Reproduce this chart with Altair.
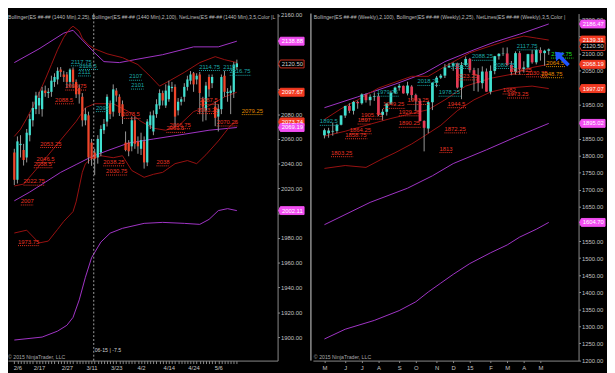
import altair as alt
import pandas as pd

FONT = "Liberation Sans"
BG = "#000000"
CYAN = "#40e0d0"
RED_L = "#f0452a"
RED_R = "#e23a55"
WICK = "#9a9a9a"
LINE_RED = "#9b1111"
LINE_MAG = "#a335c9"
LBL = {"C": "#1aa7a7", "R": "#e83323", "O": "#e08c00", "G": "#1ee01e"}
AXIS_TXT = "#c4c4c4"
AXIS_LINE = "#8c8c8c"
BADGE = {"P": ("#f24ef2", "#f24ef2", "#ffffff"),
         "R": ("#f23a22", "#f23a22", "#ffffff"),
         "K": ("#000000", "#d03020", "#d0d0d0")}

# ---------------- daily panel (1440 Min) ----------------
d_open = [2049, 2027, 2055, 2051, 2045, 2063, 2075, 2084, 2087, 2084,
          2099, 2097, 2098, 2106, 2108, 2116, 2112, 2112, 2106, 2116,
          2106, 2101, 2094, 2075, 2079, 2057, 2049, 2045, 2049, 2067,
          2074, 2088, 2082, 2099, 2094, 2088, 2057, 2057, 2054, 2075,
          2058, 2052, 2058, 2041, 2071, 2066, 2080, 2087, 2097, 2087,
          2092, 2101, 2102, 2083, 2090, 2094, 2102, 2107, 2113, 2108,
          2112, 2092, 2083, 2110, 2105, 2086, 2078, 2084, 2111, 2097,
          2097, 2098, 2118]
d_high = [2052, 2062, 2063, 2056, 2068, 2080, 2090, 2098, 2098, 2102,
          2103, 2101, 2111, 2113, 2117.75, 2118, 2115, 2114, 2117, 2117.75,
          2108, 2104, 2097, 2085, 2082, 2060, 2052, 2063, 2071, 2076,
          2096, 2091, 2104, 2101, 2096, 2091, 2066, 2059, 2078, 2078,
          2062, 2065, 2062, 2076, 2082, 2083, 2092, 2100, 2099, 2104,
          2107, 2106, 2104, 2093, 2094, 2105, 2111, 2114.75, 2114, 2113,
          2114, 2094, 2106, 2112, 2112, 2090, 2088, 2112, 2115, 2101,
          2103, 2122, 2124]
d_low = [2022.75, 2024, 2045, 2038.5, 2041, 2058, 2070, 2080, 2080, 2078,
         2094, 2093, 2094, 2102, 2104, 2110, 2106, 2101, 2102, 2101,
         2093, 2088.5, 2070, 2071, 2040, 2038.25, 2030.75, 2040, 2046, 2064,
         2070, 2076, 2078, 2090, 2078.5, 2072, 2050, 2046, 2050, 2052,
         2048, 2047, 2036, 2038, 2068, 2063, 2077, 2084, 2087, 2085,
         2090, 2098, 2070, 2079, 2087, 2090, 2099, 2104, 2098, 2104,
         2080, 2074, 2075, 2094, 2101, 2070.25, 2066, 2080, 2094, 2090,
         2080, 2093, 2116]
d_close = [2027, 2058, 2056, 2043, 2065, 2076, 2085, 2095, 2093, 2099,
           2097, 2098, 2107, 2110, 2115, 2114, 2110, 2106, 2116, 2106,
           2096, 2096, 2075, 2080, 2045, 2044, 2044, 2060, 2068, 2072,
           2094, 2080, 2100, 2095, 2081, 2078, 2051, 2050, 2075, 2056,
           2054, 2059, 2041, 2074, 2079, 2079, 2088, 2097, 2091, 2099,
           2103, 2102, 2078, 2090, 2092, 2102, 2108, 2112, 2104, 2111,
           2097, 2086, 2103, 2100, 2110, 2077, 2084, 2110, 2098, 2098,
           2099, 2120, 2121]
d_tick_idx = [1, 8, 17, 25, 33, 41, 50, 58, 66]
d_tick_txt = ["2/6", "2/17", "2/27", "3/11", "3/23", "4/2", "4/14", "4/24", "5/6"]

d_bb25_up_i = [0, 2, 4, 6, 8, 10, 12, 14, 16, 18, 19, 21, 22, 24, 26, 30, 35, 40, 44, 47, 50, 55, 60, 65, 68, 72]
d_bb25_up = [2062, 2067.8, 2076.5, 2086, 2097, 2108, 2120, 2132, 2142, 2149, 2151, 2147, 2141.4, 2135.9,
             2132.7, 2128.7, 2125.6, 2120, 2110.5, 2102.6, 2106.6, 2113.7, 2121.6, 2126.4, 2124, 2121.6]
d_bb25_mid_i = [0, 3, 9, 15, 20, 23, 26, 32, 37, 41, 45, 49, 53, 58, 63, 68, 72]
d_bb25_mid = [2022, 2023.5, 2041, 2059.1, 2074.1, 2085.2, 2088.4, 2088.4, 2082, 2074.1, 2068.6, 2067,
              2070.2, 2082, 2086.8, 2093.9, 2097.7]
d_bb25_lo_i = [0, 4, 8, 11, 14, 16, 19, 20, 21, 22, 23, 25, 28, 32, 35, 38, 42, 45, 48, 52, 56, 59, 62, 66, 68, 70, 72]
d_bb25_lo = [1984, 1986.3, 1976, 1977.5, 1987, 1993.4, 2001.3, 2009.2, 2021, 2033, 2040, 2044, 2046.4,
             2044.8, 2046.4, 2034.5, 2029, 2031.4, 2033, 2040, 2042.5, 2040, 2047.2, 2058.3, 2064.6, 2071, 2073.7]
d_bb100_up_i = [0, 8, 16, 19, 22, 26, 29, 34, 39, 48, 58, 66, 72]
d_bb100_up = [2121.6, 2132.7, 2145.4, 2147.7, 2139.8, 2129.5, 2122.4, 2121.6, 2124, 2128, 2134.3, 2134.3, 2138.9]
d_bb100_mid_i = [0, 5, 10, 15, 20, 25, 30, 37, 45, 55, 63, 72]
d_bb100_mid = [2010, 2017.1, 2025, 2033, 2039.3, 2045.6, 2050.4, 2056.7, 2059.9, 2063.8, 2067, 2069.2]
d_bb100_lo_i = [0, 9, 14, 17, 19, 21, 23, 25, 28, 31, 35, 42, 48, 55, 60, 63, 66, 69, 72]
d_bb100_lo = [1897.6, 1900, 1904.8, 1909.5, 1915.9, 1930, 1948.3, 1964.1, 1976.7, 1983.9, 1987.8,
              1991.8, 1992.6, 1991.8, 1991, 1995, 2002.1, 2003.7, 2002.1]

d_lbl_txt = ["2117.75", "2116.5", "2111", "2107", "2101", "2092", "2114.75", "2115", "2116.75",
             "2099.75", "2088.5", "2078.5", "2053.25", "2046.5", "2038.5", "2022.75", "2007", "1973.75",
             "2038.25", "2030.75", "2038", "2066.75", "2061.5", "2087.5", "2083.25", "2070.25", "2079.25"]
d_lbl_i = [18.3, 21.0, 20.7, 37.2, 37.8, 26.4, 59.8, 67.6, 69.7,
           16.5, 13.2, 34.8, 8.4, 7.2, 6.3, 3.0, 2.1, 1.2,
           28.8, 29.7, 46.0, 50.2, 49.2, 60.0, 59.2, 65.5, 73.6]
d_lbl_p = [2122.2, 2119.2, 2114.0, 2110.5, 2103.4, 2085.2, 2118.4, 2118.4, 2114.5,
           2102.6, 2091.5, 2079.7, 2056.2, 2044.0, 2039.9, 2025.8, 2009.8, 1977.0,
           2041.4, 2034.0, 2041.4, 2071.4, 2068.4, 2091.0, 2083.6, 2073.6, 2082.8]
d_lbl_col = ["C"] * 9 + ["R"] * 17 + ["O"]

d_badge_p = [2138.88, 2120.50, 2097.67, 2073.74, 2069.19, 2002.11]
d_badge_kind = ["P", "K", "R", "R", "P", "P"]
d_hidden_ticks = [2140, 2120, 2100, 2000]

d_cursor_i = 25.7
d_cursor_txt = "06-15 | -7.5"

# ---------------- weekly panel ----------------
w_open = [1860, 1866, 1871, 1873, 1891, 1918, 1946, 1932, 1958, 1954,
          1979, 1963, 1973, 1975, 1920, 1929, 1953, 1985, 2000, 2005,
          1983, 2003, 1978, 1961, 1902, 1880, 1957, 2014, 2029, 2035,
          2059, 2064, 2071, 2000, 2066, 2084, 2051, 2037, 2013, 2047,
          1988, 2049, 2092, 2099, 2100, 2066, 2046, 2101, 2055, 2059,
          2098, 2074, 2110, 2101, 2108]
w_high = [1880, 1882, 1897, 1894, 1919, 1947, 1954, 1961, 1962, 1983,
          1983, 1980, 1986, 1983, 1937, 1955, 1991, 2003, 2011, 2006,
          2017, 2007, 1982, 1967, 1904, 1960, 2015, 2034, 2040, 2069,
          2072, 2074, 2073, 2075, 2091, 2087, 2058, 2057, 2062, 2056,
          2065, 2093, 2101, 2117, 2117.75, 2078, 2106, 2107, 2077, 2099,
          2110, 2114, 2118, 2111, 2114.75]
w_low = [1851, 1853, 1859, 1866, 1889, 1911, 1925, 1921, 1938, 1950,
         1956, 1947, 1961, 1916, 1904, 1918, 1950, 1981, 1991, 1982,
         1977, 1962, 1932, 1901, 1813, 1866, 1934, 2001, 2025, 2028,
         2058, 2049, 1997, 1966, 2063, 2044, 1990, 1988, 1997, 1988,
         1980, 2039, 2082, 2093, 2064, 2036, 2038, 2038, 2044, 2056,
         2070, 2068, 2079, 2064, 2096]
w_close = [1875, 1874, 1873, 1891, 1918, 1946, 1932, 1958, 1954, 1980,
           1963, 1973, 1975, 1920, 1929, 1953, 1985, 2000, 2005, 1983,
           2006, 1978, 1962, 1902, 1882, 1957, 2014, 2029, 2035, 2059,
           2064, 2071, 2000, 2066, 2084, 2051, 2037, 2013, 2047, 1988,
           2049, 2092, 2099, 2100, 2066, 2046, 2101, 2055, 2059, 2098,
           2074, 2110, 2101, 2108, 2112]
w_tick_idx = [0, 5, 9, 13, 18, 22, 27, 31, 35, 40, 44, 48, 52]
w_tick_txt = ["M", "J", "J", "A", "S", "O", "N", "D", "15", "F", "M", "A", "M"]

w_bb100_up_i = [0, 8, 17, 24, 29, 36, 41, 47, 54]
w_bb100_up = [1941, 1972.7, 2010, 2041.6, 2076, 2110.6, 2133.6, 2156.6, 2186.5]
w_bb100_mid_i = [0, 11, 20, 26, 31, 39, 46, 54]
w_bb100_mid = [1598, 1663.5, 1705, 1741.4, 1777.2, 1817.5, 1854.8, 1895]
w_bb100_lo_i = [0, 5, 12, 18, 22, 25, 28, 31, 35, 40, 44, 47, 51, 54]
w_bb100_lo = [1263, 1291.6, 1317.4, 1346.2, 1372, 1400.8, 1426.7, 1452.5, 1484.1, 1515.7, 1538.7,
              1561.7, 1584.7, 1604.7]
w_bb25_up_i = [0, 4, 8, 13, 17, 21, 25, 29, 35, 40, 45, 48, 51, 54]
w_bb25_up = [1906.6, 1938, 1964, 1998.5, 2015.8, 2033, 2033, 2061.8, 2102, 2122, 2142.2, 2150.9, 2145.1, 2139.3]
w_bb25_mid_i = [0, 5, 10, 16, 21, 25, 29, 34, 40, 45, 50, 54]
w_bb25_mid = [1857.7, 1872, 1889.3, 1909.4, 1923.8, 1935.3, 1964, 2004.3, 2027.3, 2038.8, 2058.9, 2068.2]
w_bb25_lo_i = [0, 5, 10, 14, 17, 21, 24, 28, 32, 36, 40, 44, 50, 54]
w_bb25_lo = [1763, 1771.5, 1766, 1791.6, 1808.9, 1834.7, 1857.7, 1889.3, 1932.4, 1964, 1987, 1998.5,
             2004.3, 1997.1]

w_lbl_txt = ["1892.5", "1979.75", "2018.25", "1978.25", "2062.5", "2080.75", "2117.75", "2088.25",
             "2114.75",
             "1897", "1905.75", "1864.25", "1858.75", "1803.25", "1949.25", "1929.25", "1890.25",
             "1993.25", "1872.25", "1813", "1944.5", "2023.25", "1982", "1973.25", "2034.25", "2030.25",
             "2064.5", "2048.75"]
w_lbl_i = [-1.1, 12.6, 22.4, 27.5, 30.5, 40.9, 46.3, 35.5,
           54.6,
           8.0, 8.8, 6.1, 5.0, 1.6, 14.1, 17.9, 17.9,
           20.0, 28.9, 27.7, 29.6, 31.8, 42.9, 44.0, 44.8, 48.6,
           53.4, 52.2]
w_lbl_p = [1900.8, 1986.2, 2017.8, 1986.2, 2067.5, 2067.5, 2122.1, 2091.4,
           2098.0,
           1904.6, 1919.0, 1876.0, 1861.5, 1808.9, 1950.5, 1928.7, 1895.0,
           1962.0, 1878.7, 1821.0, 1952.5, 2033.9, 1992.8, 1981.0, 2050.0, 2043.0,
           2073.0, 2040.4]
w_lbl_col = ["C"] * 8 + ["G"] + ["R"] * 17 + ["O", "O"]

w_badge_p = [2186.47, 2139.31, 2120.50, 2068.19, 1997.07, 1895.02, 1604.70]
w_badge_kind = ["P", "R", "K", "R", "R", "P", "P"]
w_hidden_ticks = [2150, 2000, 1900, 1600]

w_arrow_i = [57.3]
w_arrow_p = [2083.3]

HDR_L = ("Bollinger(ES ##-## (1440 Min),2,25), Bollinger(ES ##-## (1440 Min),2,100), "
         "NetLines(ES ##-## (1440 Min),3,5,Color |L")
HDR_R = ("Bollinger(ES ##-## (Weekly),2,100), Bollinger(ES ##-## (Weekly),2,25), "
         "NetLines(ES ##-## (Weekly),3,5,Color |")
COPY = "\u00a9 2015 NinjaTrader, LLC"

W_L, W_R, H = 275, 271, 354
FS = 6
FS_SMALL = 5.3


def lines_df(pairs):
    rows = []
    for name, idx, vals in pairs:
        for a, b in zip(idx, vals):
            rows.append({"s": name, "i": a, "p": b})
    return pd.DataFrame(rows)


def build(cdf, red_lines, mag_lines, lbl, badges, xs, ys, W, xaxis, yaxis, bsize, dn, cw, extra):
    X = alt.X("i:Q", scale=xs, axis=xaxis)
    wick = alt.Chart(cdf).mark_rule(color=WICK, strokeWidth=1).encode(
        x=X, y=alt.Y("l:Q", scale=ys, axis=yaxis), y2="h:Q")
    body = alt.Chart(cdf).mark_bar(size=bsize, orient="vertical").encode(
        x=X, y=alt.Y("o:Q", scale=ys, axis=yaxis), y2="c:Q",
        color=alt.condition("datum.c >= datum.o", alt.value(CYAN), alt.value(dn)))
    rl = alt.Chart(red_lines).mark_line(color=LINE_RED, strokeWidth=1).encode(
        x=X, y=alt.Y("p:Q", scale=ys, axis=yaxis), detail="s:N")
    ml = alt.Chart(mag_lines).mark_line(color=LINE_MAG, strokeWidth=1).encode(
        x=X, y=alt.Y("p:Q", scale=ys, axis=yaxis), detail="s:N")
    txt = alt.Chart(lbl).mark_text(align="left", baseline="middle", font=FONT, fontSize=FS).encode(
        x=X, y=alt.Y("p:Q", scale=ys, axis=yaxis), text="t:N",
        color=alt.Color("col:N", scale=None))
    und = alt.Chart(lbl).transform_calculate(i2=f"datum.i + length(datum.t) * {cw}").mark_rule(
        strokeDash=[1, 1], strokeWidth=1, yOffset=4).encode(
        x=X, x2="i2:Q", y=alt.Y("p:Q", scale=ys, axis=yaxis),
        color=alt.Color("col:N", scale=None))
    bpath = "M-1,0L-0.86,-0.31L1,-0.31L1,0.31L-0.86,0.31Z"
    bbox = alt.Chart(badges).mark_point(shape=bpath, size=26 * 26, filled=True, opacity=1,
                                         strokeWidth=1, fillOpacity=1).encode(
        x=alt.value(W + 14), y=alt.Y("p:Q", scale=ys, axis=yaxis),
        fill=alt.Fill("fill:N", scale=None), stroke=alt.Stroke("stroke:N", scale=None))
    btxt = alt.Chart(badges).mark_text(align="center", baseline="middle", font=FONT,
                                       fontSize=FS).encode(
        x=alt.value(W + 15), y=alt.Y("p:Q", scale=ys, axis=yaxis),
        text=alt.Text("p:Q", format=".2f"), color=alt.Color("tc:N", scale=None))
    return alt.layer(ml, rl, wick, body, und, txt, *extra, bbox, btxt)


def lbl_df(t, i, p, c):
    return pd.DataFrame({"t": t, "i": i, "p": p, "col": [LBL[k] for k in c]})


def badge_df(p, kind):
    return pd.DataFrame({"p": p, "fill": [BADGE[k][0] for k in kind],
                         "stroke": [BADGE[k][1] for k in kind], "tc": [BADGE[k][2] for k in kind]})


def label_expr(idx, txt):
    return f"indexof({idx}, datum.value) >= 0 ? {txt}[indexof({idx}, datum.value)] : ''"


def ylabel_expr(hidden):
    return f"indexof({hidden}, datum.value) >= 0 ? '' : format(datum.value, '.2f')"


common_axis = dict(labelFont=FONT, labelFontSize=FS, labelColor=AXIS_TXT, domainColor=AXIS_LINE,
                   tickColor=AXIS_LINE, grid=False, title=None, labelOverlap=False, labelFlush=False)

# ---- left (daily) ----
ddf = pd.DataFrame({"i": list(range(len(d_open))), "o": d_open, "h": d_high, "l": d_low, "c": d_close})
xs_l = alt.Scale(domain=[-0.46, 83.6], nice=False, zero=False)
ys_l = alt.Scale(domain=[1881, 2161.2], nice=False, zero=False)
xa_l = alt.Axis(values=list(range(len(d_open))), labelExpr=label_expr(d_tick_idx, d_tick_txt),
                tickSize=3, labelPadding=1, **common_axis)
ya_l = alt.Axis(orient="right", values=list(range(1900, 2161, 20)), labelExpr=ylabel_expr(d_hidden_ticks),
                tickSize=2, labelPadding=1, **common_axis)
d_red = lines_df([("u", d_bb25_up_i, d_bb25_up), ("m", d_bb25_mid_i, d_bb25_mid), ("l", d_bb25_lo_i, d_bb25_lo)])
d_mag = lines_df([("u", d_bb100_up_i, d_bb100_up), ("m", d_bb100_mid_i, d_bb100_mid), ("l", d_bb100_lo_i, d_bb100_lo)])

one = pd.DataFrame({"i": [d_cursor_i], "t": [d_cursor_txt]})
cursor = alt.Chart(one).mark_rule(color="#a0a0a0", strokeDash=[2, 2], strokeWidth=1).encode(
    x=alt.X("i:Q", scale=xs_l, axis=xa_l), y=alt.value(0), y2=alt.value(H))
cursor_t = alt.Chart(one).mark_text(align="left", baseline="middle", font=FONT, fontSize=FS_SMALL,
                                    color="#d0d0d0", dx=1).encode(
    x=alt.X("i:Q", scale=xs_l, axis=xa_l), y=alt.value(H - 11), text="t:N")
hdr_l = alt.Chart(pd.DataFrame({"t": [HDR_L]})).mark_text(
    align="left", baseline="middle", font=FONT, fontSize=5.2, color="#bdbdbd", limit=W_L).encode(
    x=alt.value(0), y=alt.value(4), text="t:N")
copy_l = alt.Chart(pd.DataFrame({"t": [COPY]})).mark_text(
    align="left", baseline="middle", font=FONT, fontSize=FS_SMALL, color="#a8a8a8").encode(
    x=alt.value(0), y=alt.value(H - 4), text="t:N")

left = build(ddf, d_red, d_mag, lbl_df(d_lbl_txt, d_lbl_i, d_lbl_p, d_lbl_col),
             badge_df(d_badge_p, d_badge_kind), xs_l, ys_l, W_L, xa_l, ya_l, 2.3, RED_L, 1.0,
             [cursor, cursor_t, hdr_l, copy_l]).properties(width=W_L, height=H)

# ---- right (weekly) ----
wdf = pd.DataFrame({"i": list(range(len(w_open))), "o": w_open, "h": w_high, "l": w_low, "c": w_close})
xs_r = alt.Scale(domain=[-1.6, 60], nice=False, zero=False)
ys_r = alt.Scale(domain=[1199.6, 2217], nice=False, zero=False)
xa_r = alt.Axis(values=w_tick_idx, labelExpr=label_expr(w_tick_idx, w_tick_txt),
                tickSize=2, labelPadding=2, **common_axis)
ya_r = alt.Axis(orient="right", values=list(range(1200, 2201, 50)), labelExpr=ylabel_expr(w_hidden_ticks),
                tickSize=2, labelPadding=1, **common_axis)
w_red = lines_df([("u", w_bb25_up_i, w_bb25_up), ("m", w_bb25_mid_i, w_bb25_mid), ("l", w_bb25_lo_i, w_bb25_lo)])
w_mag = lines_df([("u", w_bb100_up_i, w_bb100_up), ("m", w_bb100_mid_i, w_bb100_mid), ("l", w_bb100_lo_i, w_bb100_lo)])

edge = alt.Chart(pd.DataFrame({"t": [""]})).mark_rule(color="#d8d8d8", strokeWidth=1).encode(
    x=alt.value(-2), y=alt.value(0), y2=alt.value(H))
arrow_path = "M-1,-1L0.3,-0.85L-0.1,-0.45L1,0.65L0.65,1L-0.45,-0.1L-0.85,0.3Z"
arrow = alt.Chart(pd.DataFrame({"i": w_arrow_i, "p": w_arrow_p})).mark_point(
    shape=arrow_path, size=225, filled=True, color="#1f55ff", opacity=1).encode(
    x=alt.X("i:Q", scale=xs_r, axis=xa_r), y=alt.Y("p:Q", scale=ys_r, axis=ya_r))
hdr_r = alt.Chart(pd.DataFrame({"t": [HDR_R]})).mark_text(
    align="left", baseline="middle", font=FONT, fontSize=5.2, color="#bdbdbd", limit=W_R).encode(
    x=alt.value(1), y=alt.value(4), text="t:N")
copy_r = alt.Chart(pd.DataFrame({"t": [COPY]})).mark_text(
    align="left", baseline="middle", font=FONT, fontSize=FS_SMALL, color="#a8a8a8").encode(
    x=alt.value(1), y=alt.value(H - 4), text="t:N")

right = build(wdf, w_red, w_mag, lbl_df(w_lbl_txt, w_lbl_i, w_lbl_p, w_lbl_col),
              badge_df(w_badge_p, w_badge_kind), xs_r, ys_r, W_R, xa_r, ya_r, 2.8, RED_R, 0.76,
              [edge, arrow, hdr_r, copy_r]).properties(width=W_R, height=H)

chart = alt.hconcat(left, right, spacing=4).properties(
    background=BG, padding=0).configure_view(strokeWidth=0, stroke="transparent")

chart.save("out.html", embed_options={"renderer": "svg", "actions": False})
